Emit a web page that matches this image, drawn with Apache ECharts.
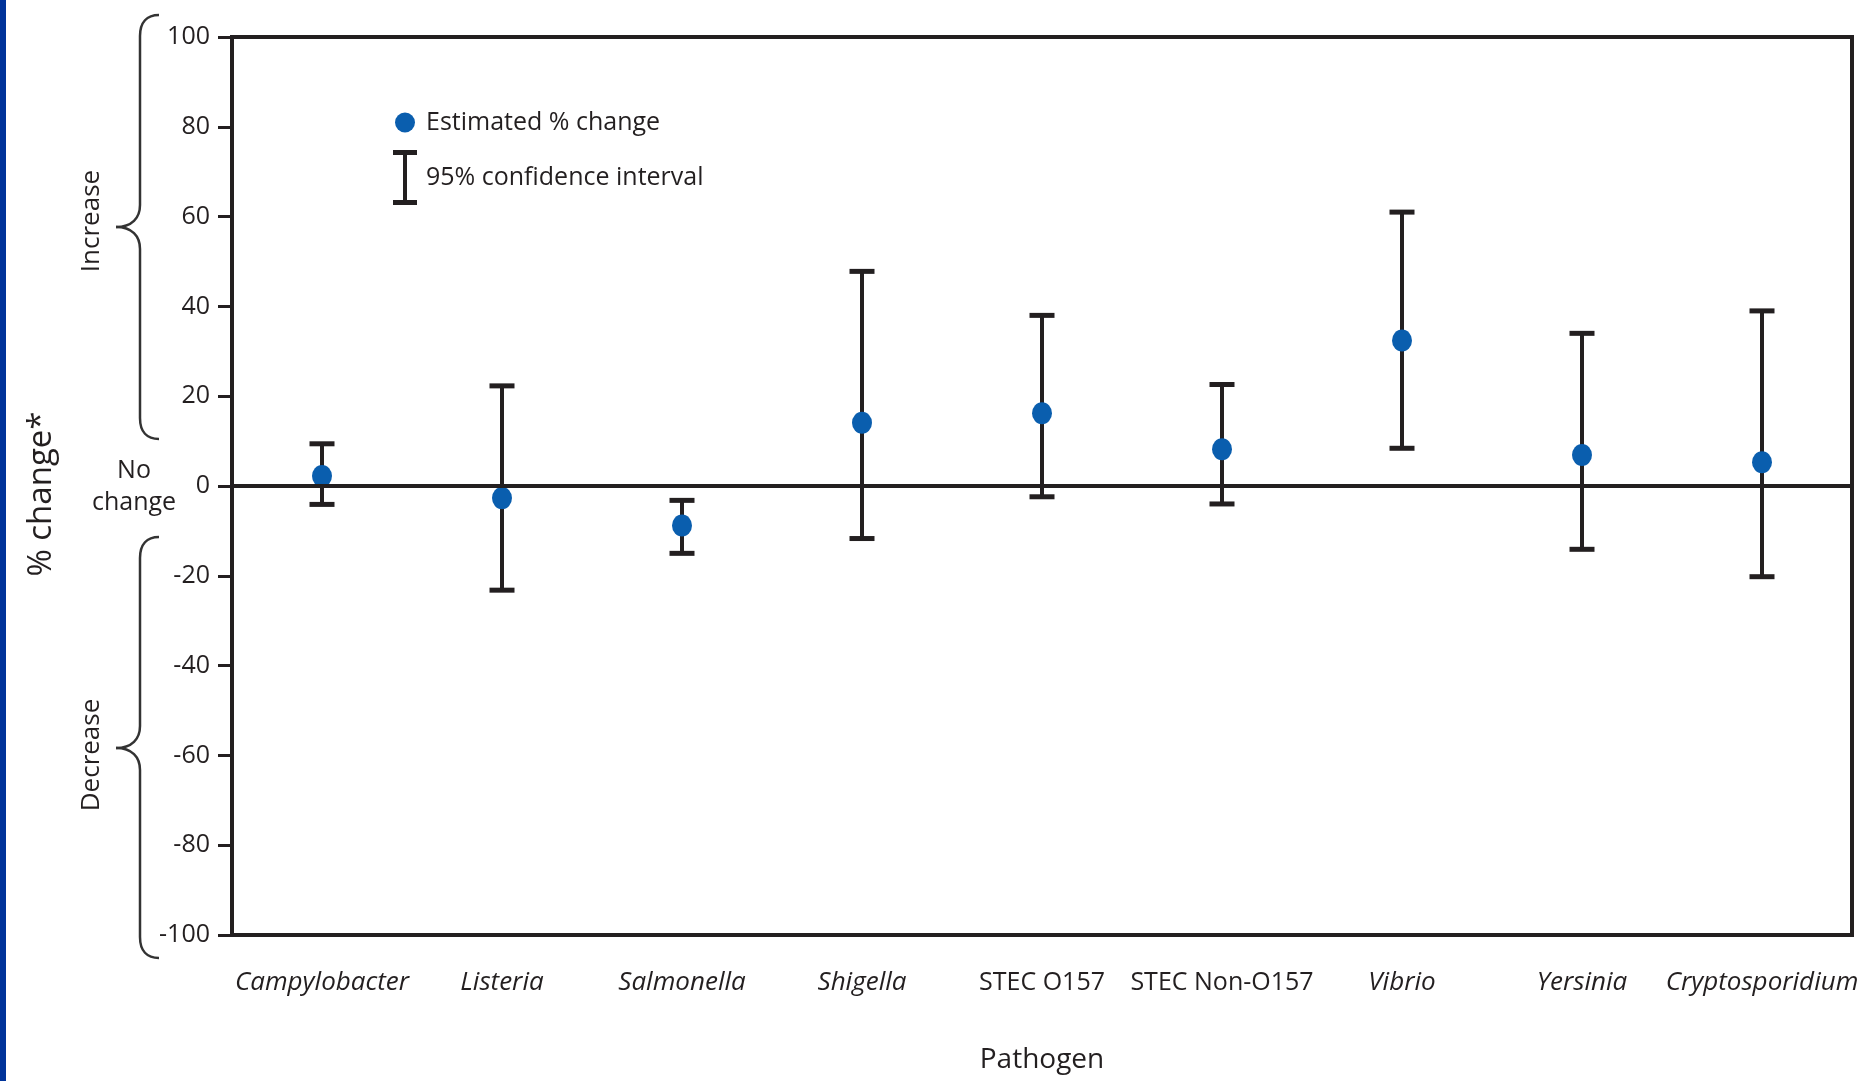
<!DOCTYPE html>
<html>
<head>
<meta charset="utf-8">
<title>Estimated % change in incidence by pathogen</title>
<script src="https://cdn.jsdelivr.net/npm/echarts@6/dist/echarts.min.js"></script>
<style>
  html, body { margin: 0; padding: 0; background: #ffffff; }
  #chart { width: 1870px; height: 1081px; }
</style>
</head>
<body>
<div id="chart"></div>
<script>
// Pathogens along the x axis
const categories = ['Campylobacter', 'Listeria', 'Salmonella', 'Shigella', 'STEC O157', 'STEC Non-O157', 'Vibrio', 'Yersinia', 'Cryptosporidium'];
// Genus names are set in italics; the STEC groups are not
const italicNames = [true, true, true, true, false, false, true, true, true];
// Estimated % change and its 95% confidence limits
const estimate = [2.2, -2.7, -8.8, 14.1, 16.2, 8.2, 32.4, 6.9, 5.3];
const lower = [-4.1, -23.2, -15.0, -11.7, -2.4, -4.0, 8.4, -14.1, -20.2];
const upper = [9.4, 22.3, -3.2, 47.8, 38.0, 22.6, 61.0, 34.0, 39.0];
// Value axis ticks
const yTicks = [-100, -80, -60, -40, -20, 0, 20, 40, 60, 80, 100];

const INK = '#231f20';
const DOT = '#0a5eae';
const FONT = 'Open Sans';

const chart = echarts.init(document.getElementById('chart'), null, { renderer: 'canvas' });

const ciData = categories.map((c, i) => [i, lower[i], upper[i]]);

function renderInterval(params, api) {
  const x = api.value(0);
  const lo = api.coord([x, api.value(1)]);
  const hi = api.coord([x, api.value(2)]);
  const capW = 25, capH = 5;
  return {
    type: 'group',
    children: [
      { type: 'line', shape: { x1: lo[0], y1: lo[1], x2: hi[0], y2: hi[1] },
        style: { stroke: INK, lineWidth: 4 } },
      { type: 'rect', shape: { x: hi[0] - capW / 2, y: hi[1] - capH / 2, width: capW, height: capH },
        style: { fill: INK } },
      { type: 'rect', shape: { x: lo[0] - capW / 2, y: lo[1] - capH / 2, width: capW, height: capH },
        style: { fill: INK } }
    ]
  };
}

// Curly brace opening to the right: ends at x = xEnd, spine at x = xSpine, point at x = xTip
function brace(yTop, yMid, yBot) {
  const xEnd = 159, xSpine = 140, xTip = 116;
  const st = { fill: null, stroke: '#333333', lineWidth: 2.5 };
  const r = 21, k = 22;
  return {
    type: 'group', silent: true,
    children: [
      { type: 'bezierCurve', style: st,
        shape: { x1: xEnd, y1: yTop, cpx1: xEnd - 12, cpy1: yTop, cpx2: xSpine, cpy2: yTop + 7, x2: xSpine, y2: yTop + r } },
      { type: 'line', style: st, shape: { x1: xSpine, y1: yTop + r, x2: xSpine, y2: yMid - k } },
      { type: 'bezierCurve', style: st,
        shape: { x1: xSpine, y1: yMid - k, cpx1: xSpine, cpy1: yMid - 9, cpx2: xTip + 16, cpy2: yMid, x2: xTip, y2: yMid } },
      { type: 'bezierCurve', style: st,
        shape: { x1: xTip, y1: yMid, cpx1: xTip + 16, cpy1: yMid, cpx2: xSpine, cpy2: yMid + 9, x2: xSpine, y2: yMid + k } },
      { type: 'line', style: st, shape: { x1: xSpine, y1: yMid + k, x2: xSpine, y2: yBot - r } },
      { type: 'bezierCurve', style: st,
        shape: { x1: xSpine, y1: yBot - r, cpx1: xSpine, cpy1: yBot - 7, cpx2: xEnd - 12, cpy2: yBot, x2: xEnd, y2: yBot } }
    ]
  };
}

const option = {
  backgroundColor: '#ffffff',
  animation: false,
  textStyle: { fontFamily: FONT, color: INK },
  grid: {
    left: 232, right: 18, top: 37, bottom: 146,
    show: true, borderColor: INK, borderWidth: 4, backgroundColor: '#ffffff'
  },
  legend: [
    {
      orient: 'vertical', left: 395, top: 110, padding: 0,
      itemWidth: 20, itemHeight: 20, selectedMode: false,
      textStyle: { fontFamily: FONT, fontSize: 25, color: INK, padding: [0, 0, 0, 6] },
      data: [{ name: 'Estimated % change', icon: 'circle' }]
    },
    {
      orient: 'vertical', left: 393, top: 150, padding: 0,
      itemWidth: 24, itemHeight: 55, selectedMode: false,
      textStyle: { fontFamily: FONT, fontSize: 25, color: INK, padding: [0, 0, 6, 4] },
      data: [{ name: '95% confidence interval', icon: 'path://M0,0H24V5H14V50H24V55H0V50H10V5H0Z' }]
    }
  ],
  xAxis: {
    type: 'category',
    data: categories,
    boundaryGap: true,
    name: 'Pathogen',
    nameLocation: 'middle',
    nameGap: 111,
    nameTextStyle: { fontFamily: FONT, fontSize: 28, color: INK },
    axisLine: { lineStyle: { color: INK, width: 4 } },
    axisTick: { alignWithLabel: true, length: 15, lineStyle: { color: INK, width: 3 } },
    axisLabel: {
      margin: 35,
      interval: 0,
      formatter: (v, i) => (italicNames[i] ? '{i|' + v + '}' : '{n|' + v + '}'),
      rich: {
        i: { fontFamily: FONT, fontSize: 26, fontStyle: 'italic', color: INK },
        n: { fontFamily: FONT, fontSize: 25, color: INK }
      }
    },
    splitLine: { show: false }
  },
  yAxis: {
    type: 'value',
    min: yTicks[0],
    max: yTicks[yTicks.length - 1],
    interval: yTicks[1] - yTicks[0],
    name: '% change*',
    nameLocation: 'middle',
    nameRotate: 90,
    nameGap: 174,
    nameTextStyle: { fontFamily: FONT, fontSize: 33, color: INK, padding: [0, 16, 0, 0] },
    axisLine: { show: true, lineStyle: { color: INK, width: 4 } },
    axisTick: { show: true, length: 14, lineStyle: { color: INK, width: 3 } },
    axisLabel: { fontFamily: FONT, fontSize: 25, color: INK, margin: 22 },
    splitLine: { show: false }
  },
  series: [
    {
      name: '95% confidence interval',
      type: 'custom',
      renderItem: renderInterval,
      itemStyle: { color: INK },
      encode: { x: 0, y: [1, 2] },
      data: ciData,
      z: 2
    },
    {
      name: 'Estimated % change',
      type: 'scatter',
      data: estimate,
      symbol: 'circle',
      symbolSize: [20, 22],
      itemStyle: { color: DOT, opacity: 1 },
      z: 3,
      markLine: {
        silent: true,
        symbol: ['none', 'none'],
        label: { show: false },
        lineStyle: { color: INK, width: 4, type: 'solid' },
        data: [{ yAxis: 0 }]
      }
    }
  ],
  graphic: [
    // blue edge strip
    { type: 'rect', left: 0, top: 0, shape: { width: 6, height: 1081 }, style: { fill: '#00339a' }, silent: true },
    // braces spanning the positive and negative ranges
    brace(15, 227, 439),
    brace(537, 748, 958),
    { type: 'text', silent: true, x: 92, y: 221, rotation: Math.PI / 2,
      style: { text: 'Increase', fontFamily: FONT, fontSize: 26, fill: INK, align: 'center', verticalAlign: 'middle' } },
    { type: 'text', silent: true, x: 92, y: 755, rotation: Math.PI / 2,
      style: { text: 'Decrease', fontFamily: FONT, fontSize: 26, fill: INK, align: 'center', verticalAlign: 'middle' } },
    { type: 'text', silent: true, x: 134, y: 487,
      style: { text: 'No\nchange', fontFamily: FONT, fontSize: 25, lineHeight: 32, fill: INK, align: 'center', verticalAlign: 'middle' } }
  ]
};

chart.setOption(option);
</script>
</body>
</html>
